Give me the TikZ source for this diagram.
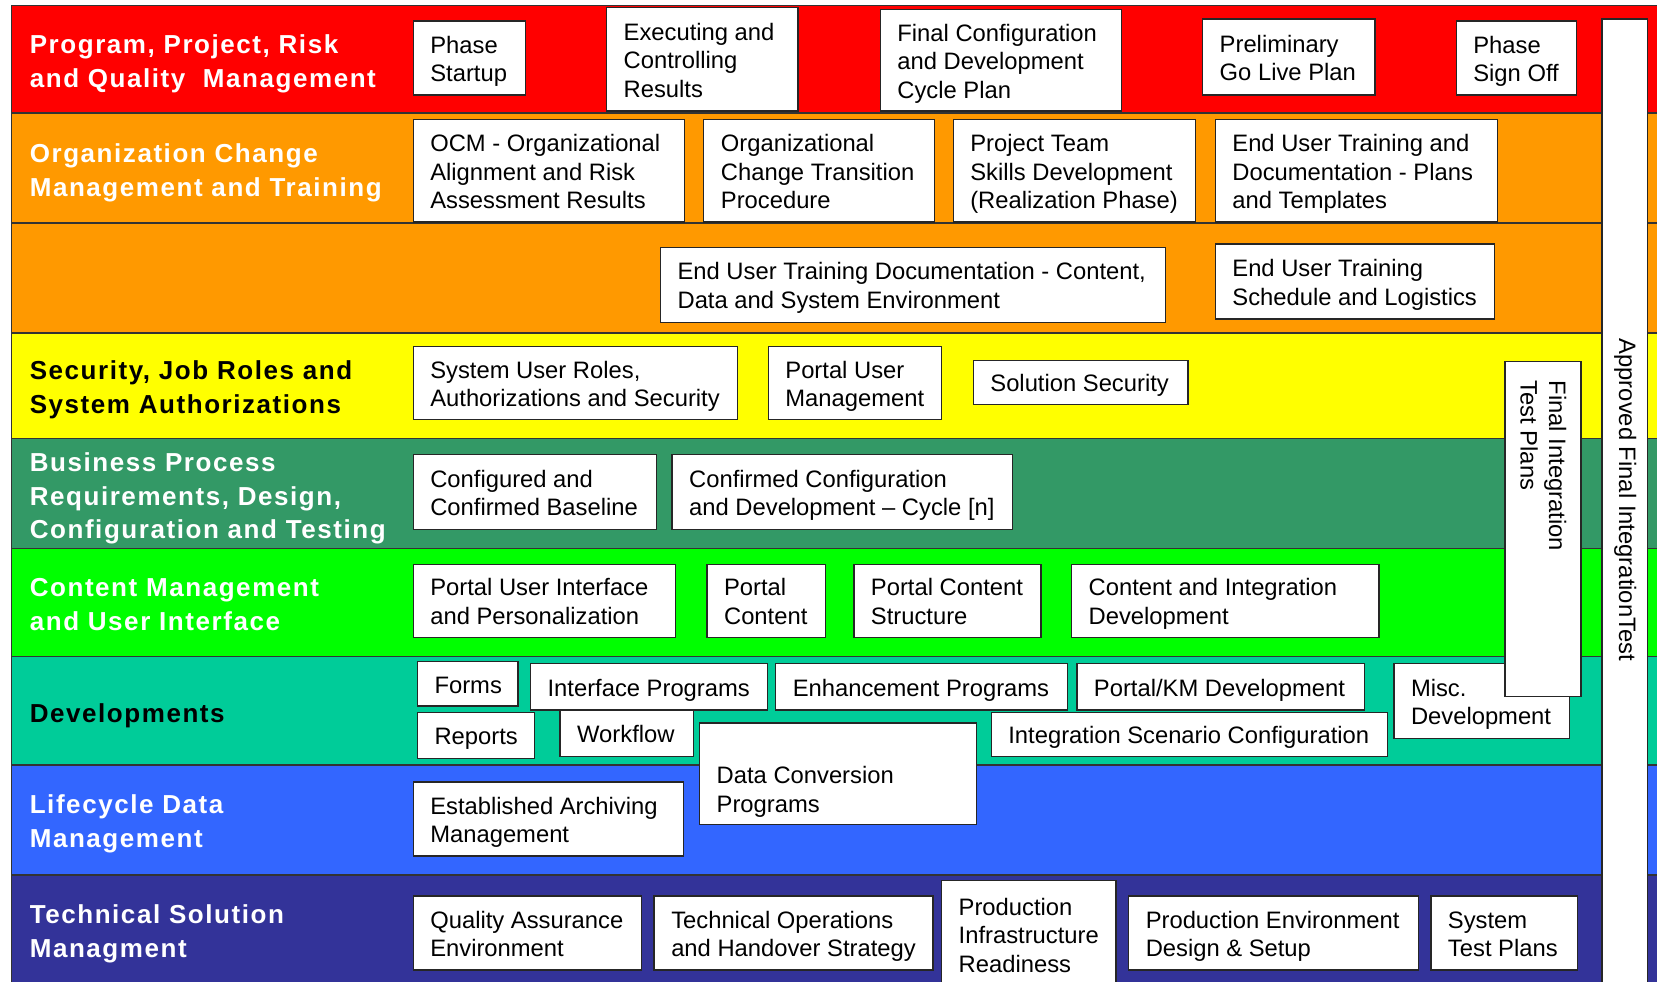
\documentclass[tikz,border=0pt]{standalone}
\usepackage{fontspec}
\setmainfont{Liberation Sans}
\newfontfamily\lblfamily{Liberation Sans}[LetterSpace=6.0]
\definecolor{bRed}{HTML}{FF0000}
\definecolor{bOrange}{HTML}{FF9900}
\definecolor{bYellow}{HTML}{FFFF00}
\definecolor{bDGreen}{HTML}{339966}
\definecolor{bGreen}{HTML}{00FF00}
\definecolor{bTeal}{HTML}{00CC99}
\definecolor{bBlue}{HTML}{3366FF}
\definecolor{bNavy}{HTML}{333399}
\tikzset{
  band/.style={draw=black!80, line width=1.2pt},
  frame/.style={draw=black!85, fill=white, line width=1.3pt, anchor=north west, inner sep=0pt, outer sep=0pt},
  txt/.style={inner sep=0pt, align=left, font={\fontsize{22.5}{27}\selectfont}, text=black},
  lbl/.style={inner sep=0pt, align=left, anchor=west, font={\lblfamily\bfseries\fontsize{24.6}{32}\selectfont}, text=white},
}
\newcommand\bx[7][0]{%
  \node[frame, minimum width=#5pt-#3pt, minimum height=#6pt-#4pt] (#2) at (#3,#4) {};
  \node[txt, anchor=west] (#2t) at ([xshift=16pt, yshift={-1pt*(#1)-3.5pt}]#2.west) {\strut #7\strut};
}
\begin{document}
\begin{tikzpicture}[x=1pt, y=-1pt]
\useasboundingbox (0,0) rectangle (1568,929.25);
% bands
\path[band, fill=bRed]    (11,5)   rectangle (1590,107);
\path[band, fill=bOrange] (11,107) rectangle (1590,211);
\path[band, fill=bOrange] (11,211) rectangle (1590,315);
\path[band, fill=bYellow] (11,315) rectangle (1590,415);
\path[band, fill=bDGreen] (11,415) rectangle (1590,519);
\path[band, fill=bGreen]  (11,519) rectangle (1590,621);
\path[band, fill=bTeal]   (11,621) rectangle (1590,724);
\path[band, fill=bBlue]   (11,724) rectangle (1590,828);
\path[band, fill=bNavy]   (11,828) rectangle (1590,945);
% band labels
\node[lbl] (l1) at (28,60.5)  {\strut Program, Project, Risk\\and Quality\ \ Management\strut};
\node[lbl] (l2) at (28,163.5) {\strut Organization Change\\Management and Training\strut};
\node[lbl, text=black] (l3) at (28,368.5) {\strut Security, Job Roles and\\System Authorizations\strut};
\node[lbl] (l4) at (28,471.5) {\strut Business Process\\Requirements, Design,\\Configuration and Testing\strut};
\node[lbl] (l5) at (28,574.5) {\strut Content Management\\and User Interface\strut};
\node[lbl, text=black] (l6) at (28,677.5) {\strut Developments\strut};
\node[lbl] (l7) at (28,779.5) {\strut Lifecycle Data\\Management\strut};
\node[lbl] (l8) at (28,883.5) {\strut Technical Solution\\Managment\strut};
% approved final integration test bar
\node[frame, minimum width=43pt, minimum height=930pt] (aft) at (1516,18) {};
\node[txt, rotate=-90] (aftt) at (1537.5,473) {\strut Approved Final IntegrationTest\strut};
% row 1
\bx{ps}{391}{20}{497}{90}{Phase\\Startup}
\bx{ecr}{574}{7}{755}{105}{Executing and\\Controlling\\Results}
\bx{fcd}{833}{9}{1061}{105}{Final Configuration\\and Development\\Cycle Plan}
\bx{pgl}{1138}{18}{1301}{90}{Preliminary\\Go Live Plan}
\bx{pso}{1378}{20}{1492}{90}{Phase\\Sign Off}
% row 2
\bx{ocm}{391}{113}{648}{210}{OCM - Organizational\\Alignment and Risk\\Assessment Results}
\bx{oct}{666}{113}{884}{210}{Organizational\\Change Transition\\Procedure}
\bx{pts}{902}{113}{1131}{210}{Project Team\\Skills Development\\(Realization Phase)}
\bx{eut}{1150}{113}{1417}{210}{End User Training and\\Documentation - Plans\\and Templates}
% row 3
\bx{eud}{625}{234}{1103}{305}{End User Training Documentation - Content,\\Data and System Environment}
\bx{eus}{1150}{231}{1414}{302}{End User Training\\Schedule and Logistics}
% row 4
\bx{sur}{391}{328}{698}{397}{System User Roles,\\Authorizations and Security}
\bx{pum}{727}{328}{891}{397}{Portal User\\Management}
\bx{sos}{921}{341}{1124}{383}{Solution Security}
% row 5
\bx{ccb}{391}{430}{621}{501}{Configured and\\Confirmed Baseline}
\bx{ccd}{636}{430}{958}{501}{Confirmed Configuration\\and Development – Cycle [n]}
% row 6
\bx{pui}{391}{534}{639}{603}{Portal User Interface\\and Personalization}
\bx{pco}{669}{534}{781}{603}{Portal\\Content}
\bx{pcs}{808}{534}{985}{603}{Portal Content\\Structure}
\bx{cid}{1014}{534}{1305}{603}{Content and Integration\\Development}
% row 7
\bx{frm}{395}{626}{490}{668}{Forms}
\bx{ifp}{502}{628}{726}{672}{Interface Programs}
\bx{enp}{734}{628}{1010}{672}{Enhancement Programs}
\bx{pkm}{1019}{628}{1291}{672}{Portal/KM Development}
\bx{msc}{1319}{628}{1485}{699}{Misc.\\Development}
\bx{rep}{395}{674}{506}{718}{Reports}
\bx{wfl}{530}{672}{656}{716}{Workflow}
\bx{isc}{938}{674}{1313}{716}{Integration Scenario Configuration}
\bx[14]{dcp}{662}{684}{924}{780}{Data Conversion\\Programs}
% row 8
\bx{eam}{391}{740}{647}{810}{Established Archiving\\Management}
% row 9
\bx{qae}{391}{848}{607}{918}{Quality Assurance\\Environment}
\bx{tos}{619}{848}{883}{918}{Technical Operations\\and Handover Strategy}
\bx[-5]{pir}{891}{833}{1056}{945}{Production\\Infrastructure\\Readiness}
\bx{ped}{1068}{848}{1342}{918}{Production Environment\\Design \& Setup}
\bx{stp}{1354}{848}{1493}{918}{System\\Test Plans}
% final integration test plans (vertical)
\node[frame, minimum width=72pt, minimum height=317pt] (fit) at (1424,342) {};
\node[txt, rotate=-90, anchor=north west] (fitt) at ([xshift=-11pt, yshift=-18pt]fit.north east) {\strut Final Integration\\Test Plans\strut};
\end{tikzpicture}
\end{document}
